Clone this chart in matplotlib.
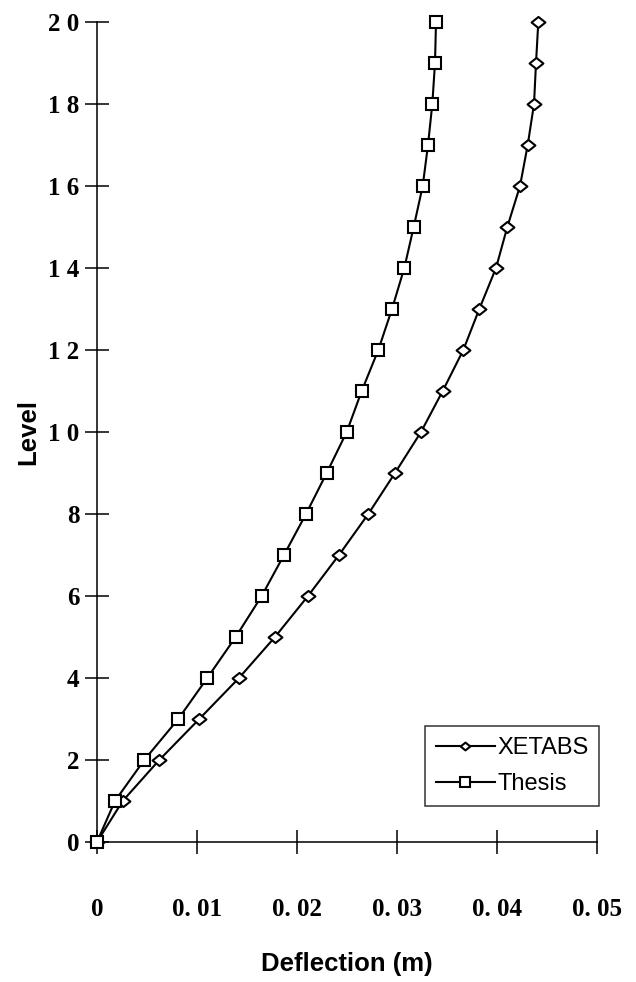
import matplotlib
matplotlib.use("Agg")
import matplotlib.pyplot as plt
from matplotlib.path import Path

levels = list(range(0, 21))
xetabs = [0.0, 0.00257, 0.00623, 0.01023, 0.0142, 0.0178, 0.0211, 0.0242, 0.02713, 0.0298,
          0.0324, 0.03457, 0.03663, 0.03823, 0.0399, 0.04103, 0.0423, 0.04307, 0.0437, 0.0439, 0.04413]
thesis = [0.0, 0.0018, 0.00473, 0.00813, 0.01103, 0.01387, 0.01647, 0.0187, 0.0209, 0.02297,
          0.02497, 0.02647, 0.02813, 0.0295, 0.03073, 0.03167, 0.03257, 0.0331, 0.03353, 0.0338, 0.0339]
xticks = [0, 0.01, 0.02, 0.03, 0.04, 0.05]
xticklabels = ["0", "0. 01", "0. 02", "0. 03", "0. 04", "0. 05"]
yticks = [0, 2, 4, 6, 8, 10, 12, 14, 16, 18, 20]
yticklabels = ["0", "2", "4", "6", "8", "1 0", "1 2", "1 4", "1 6", "1 8", "2 0"]

fig = plt.figure(figsize=(6.36, 9.82), dpi=100)
ax = fig.add_axes([0.1525, 0.1426, 0.9387 - 0.1525, 0.9776 - 0.1426])

diamond = Path([(-1, 0), (0, 0.8), (1, 0), (0, -0.8), (-1, 0)],
               [Path.MOVETO, Path.LINETO, Path.LINETO, Path.LINETO, Path.CLOSEPOLY])

ax.plot(xetabs, levels, color="black", lw=1.5, marker=diamond, markersize=10,
        markerfacecolor="white", markeredgecolor="black", markeredgewidth=1.5,
        label="XETABS", zorder=3, clip_on=False)
ax.plot(thesis, levels, color="black", lw=1.5, marker="s", markersize=9,
        markerfacecolor="white", markeredgecolor="black", markeredgewidth=1.5,
        label="Thesis", zorder=4, clip_on=False)

ax.set_xlim(0, 0.05)
ax.set_ylim(0, 20)
for s in ["top", "right"]:
    ax.spines[s].set_visible(False)
for s in ["left", "bottom"]:
    ax.spines[s].set_linewidth(1.1)

ax.set_xticks(xticks)
ax.set_xticklabels(xticklabels, family="Liberation Serif", fontsize=18, fontweight="bold")
ax.set_yticks(yticks)
ax.set_yticklabels(yticklabels, family="Liberation Serif", fontsize=18, fontweight="bold")
ax.tick_params(axis="x", direction="inout", length=17, width=1.1, pad=32)
ax.tick_params(axis="y", direction="inout", length=17, width=1.1, pad=4)

ax.set_xlabel("Deflection (m)", family="Liberation Sans", fontsize=18.5, fontweight="bold", labelpad=22)
ax.set_ylabel("Level", family="Liberation Sans", fontsize=18.5, fontweight="bold", labelpad=6)

leg = ax.legend(loc="lower right", bbox_to_anchor=(1.004, 0.044), prop={"family": "Liberation Sans", "size": 17},
                frameon=True, fancybox=False, edgecolor="black", handlelength=2.5,
                borderaxespad=0, handletextpad=0.1, labelspacing=0.6, borderpad=0.45)
leg.get_frame().set_linewidth(1.1)
for h in leg.legend_handles:
    h.set_markersize(7)

fig.savefig("out.png", dpi=100, facecolor="white")
